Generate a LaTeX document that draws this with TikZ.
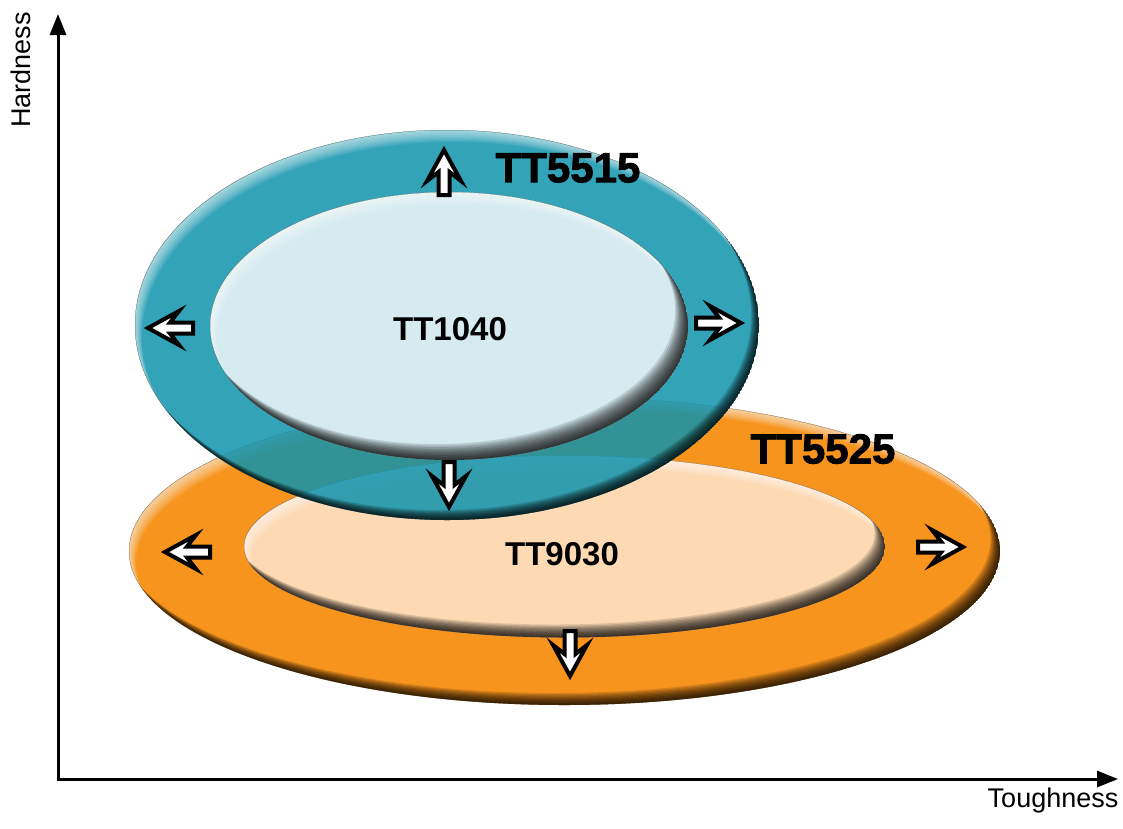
\documentclass[tikz,border=0pt]{standalone}
\usepackage{fontspec}
\setmainfont{Liberation Sans}
\newfontfamily\heavyfont{Liberation Sans Bold}[FakeBold=2]
\usetikzlibrary{arrows.meta}

\definecolor{ringblue}{RGB}{15,147,172}
\definecolor{coreblue}{HTML}{D5EBF0}
\definecolor{ringorange}{HTML}{F7941D}
\definecolor{coreorange}{HTML}{FDDAB4}

% shiny ellipse: centre, x radius, y radius, colour, opacity, shadow depth
\newcommand\shinyellipse[6]{%
  \begin{scope}
    \clip (#1) ellipse [x radius=#2, y radius=#3];
    \fill[#4, fill opacity=#5] (#1) ellipse [x radius=#2, y radius=#3];
    % light rim, upper left
    \foreach \k in {1,...,10}
      \fill[white, fill opacity=0.08, even odd rule] (#1) ellipse [x radius=#2, y radius=#3]
        ([shift={(0.7*\k,1.2*\k)}]#1) ellipse [x radius=#2, y radius=#3];
    % dark rim, lower right
    \foreach \k in {1,...,10}
      \fill[black, fill opacity=0.13, even odd rule] (#1) ellipse [x radius=#2, y radius=#3]
        ([shift={(-0.8*#6*\k,-#6*\k)}]#1) ellipse [x radius=#2, y radius=#3];
  \end{scope}}

\tikzset{
  arrowbox/.style={draw=black, fill=white, line width=4pt, line join=miter},
  blockarrow/.pic={
    \draw[arrowbox] (23,0) -- (-8,-17) -- (1,-5.5) -- (-22,-5.5) -- (-22,5.5) -- (1,5.5) -- (-8,17) -- cycle;
  },
  bigname/.style={font=\heavyfont\fontsize{42}{44}\selectfont, inner sep=0pt},
  corename/.style={font=\bfseries\fontsize{33}{36}\selectfont, inner sep=0pt},
  axislabel/.style={font=\fontsize{27}{30}\selectfont, inner sep=0pt},
  axis/.style={line width=3pt, {Triangle[length=21pt,width=16pt]}-{Triangle[length=21pt,width=16pt]}},
}

\begin{document}
\begin{tikzpicture}[x=1pt,y=-1pt]
	\useasboundingbox (0,0) rectangle (1123,828);
	% axes
	\coordinate (o) at (58,779);
	\coordinate (ytop) at (58,14);
	\coordinate (xend) at (1118,779);
	\draw[axis] (ytop) -- (o) -- (xend);
	\node[axislabel, rotate=90] (hardlbl) at (21,70) {Hardness};
	\node[axislabel] (toughlbl) at (1053,801) {Toughness};

	% orange family
	\shinyellipse{564.5,551}{435.5}{154}{ringorange}{1}{1.2}
	\shinyellipse{564.5,546.5}{320.5}{91}{coreorange}{1}{1.3}
	\pic[rotate=180] (arrleftorange) at (188,552) {blockarrow};
	\pic (arrrightorange) at (940,547) {blockarrow};
	\pic[rotate=-90] (arrdownorange) at (570,653) {blockarrow};

	% blue family
	\shinyellipse{447,325}{312}{195}{ringblue}{0.85}{1.0}
	\shinyellipse{449,326}{239}{134}{coreblue}{1}{1.6}
	\pic[rotate=90] (arrupblue) at (444,173) {blockarrow};
	\pic[rotate=180] (arrleftblue) at (171,328) {blockarrow};
	\pic (arrrightblue) at (718,323) {blockarrow};
	\pic[rotate=-90] (arrdownblue) at (449,484) {blockarrow};

	% names
	\node[bigname] (n5515) at (568,168) {TT5515};
	\node[bigname] (n5525) at (823,449) {TT5525};
	\node[corename] (n1040) at (450,329) {TT1040};
	\node[corename] (n9030) at (562,554) {TT9030};
\end{tikzpicture}
\end{document}
